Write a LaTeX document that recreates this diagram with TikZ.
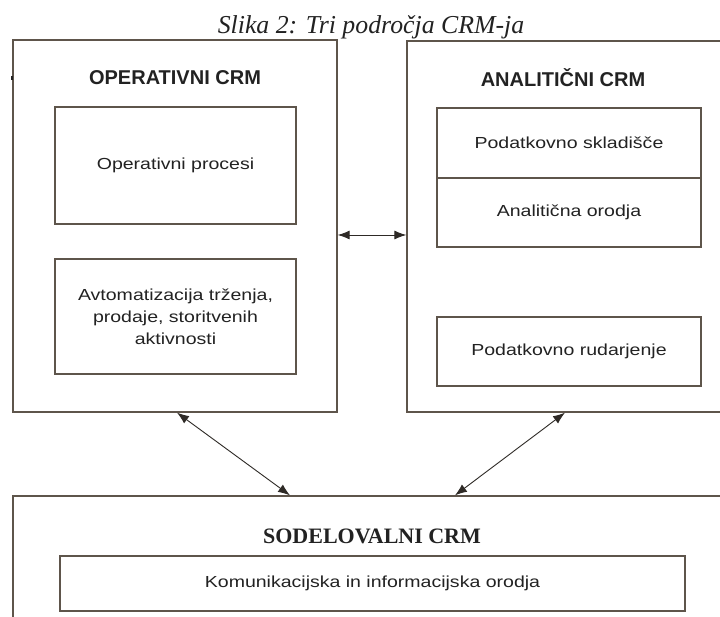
\documentclass[tikz,border=0pt]{standalone}
\usepackage{fontspec}
\setmainfont{Liberation Sans}
\newfontfamily\capfont{Liberation Serif}
\newfontfamily\wideff{Liberation Sans}[FakeStretch=1.22]
\usetikzlibrary{arrows.meta}
\definecolor{boxline}{HTML}{5E554B}
\definecolor{txt}{HTML}{222222}
\definecolor{arr}{HTML}{2E2A26}
\tikzset{
  bigbox/.style={draw=boxline, line width=1.3pt, fill=none, inner sep=0pt},
  inbox/.style={draw=boxline, line width=1.2pt, fill=none, inner sep=0pt, align=center, text=txt, font=\wideff\fontsize{16}{22}\selectfont},
  head/.style={font=\fontsize{20}{22}\selectfont\bfseries, text=txt, inner sep=0pt},
  link/.style={draw=arr, line width=0.9pt, {Latex[length=12pt,width=9pt]}-{Latex[length=12pt,width=9pt]}}
}
\begin{document}
\begin{tikzpicture}[x=1pt,y=-1pt]
\useasboundingbox (0,0) rectangle (720,617);
\fill[white] (0,0) rectangle (720,617);
\clip (0,0) rectangle (720,617);

\node[font=\capfont\itshape\fontsize{25.8}{27}\selectfont, text=txt, inner sep=0pt] (cap) at (371,27) {Slika 2: Tri področja CRM-ja};

% big boxes
\node[bigbox, minimum width=324pt, minimum height=372pt] (L) at (175,226) {};
\node[bigbox, minimum width=323pt, minimum height=371pt] (R) at (568.5,226.5) {};
\node[bigbox, minimum width=717pt, minimum height=134pt] (B) at (371.5,563) {};

% small stray mark left of the left box
\fill[txt] (10.5,76) rectangle (12.5,80.5);

% headers
\node[head] (Lh) at (175,78) {OPERATIVNI CRM};
\node[head] (Rh) at (563,78) {ANALITIČNI CRM};
\node[font=\capfont\bfseries\fontsize{22}{24}\selectfont, text=txt, inner sep=0pt] (Bh) at (372,536) {SODELOVALNI CRM};

% inner boxes
\node[inbox, minimum width=241pt, minimum height=117pt] (op1) at (175.5,165.5) {Operativni procesi};
\node[inbox, minimum width=241pt, minimum height=115pt] (op2) at (175.5,316.5) {Avtomatizacija trženja,\\prodaje, storitvenih\\aktivnosti};
\node[inbox, minimum width=264pt, minimum height=70pt] (an1) at (569,143) {Podatkovno skladišče};
\node[inbox, minimum width=264pt, minimum height=69pt] (an2) at (569,212.5) {Analitična orodja};
\node[inbox, minimum width=264pt, minimum height=69pt] (an3) at (569,351.5) {Podatkovno rudarjenje};
\node[inbox, minimum width=625pt, minimum height=55pt] (kom) at (372.5,583.5) {Komunikacijska in informacijska orodja};

% connectors
\draw[link] ([yshift=-9pt]L.east) -- ([yshift=-8.5pt]R.west);
\draw[link] ([xshift=2pt]L.south) -- ([xshift=-81.5pt]B.north);
\draw[link] ([xshift=-3.5pt]R.south) -- ([xshift=83.5pt]B.north);
\end{tikzpicture}
\end{document}
